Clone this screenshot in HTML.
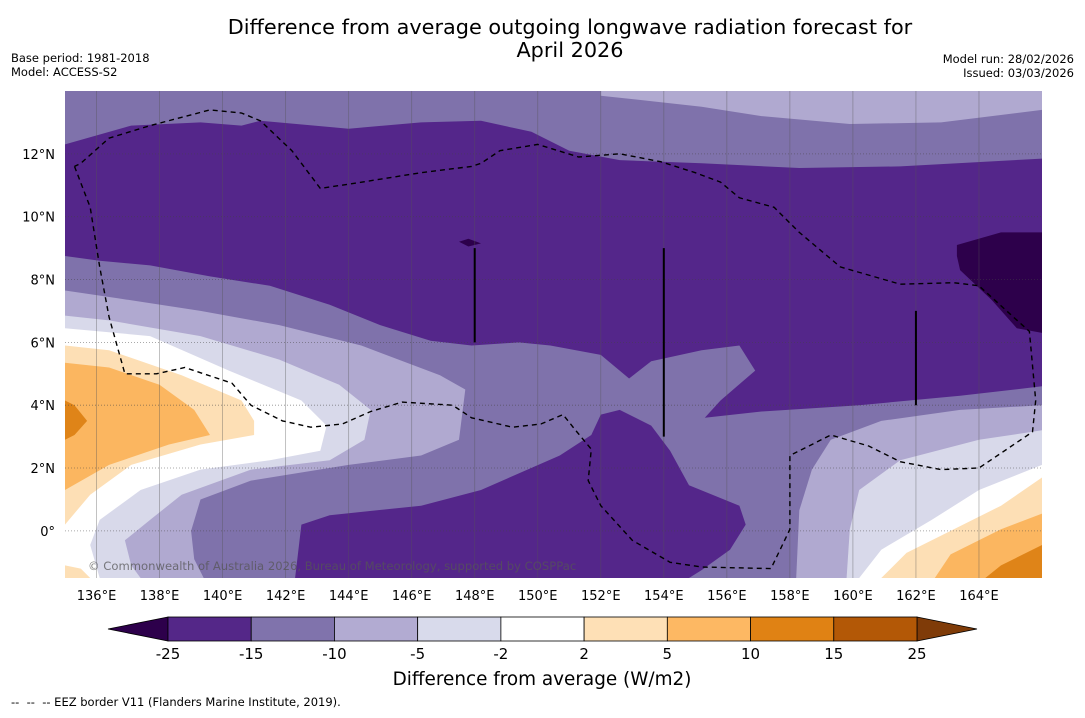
<!DOCTYPE html>
<html><head><meta charset="utf-8"><style>
body{margin:0;background:#fff;width:1085px;height:713px;overflow:hidden;font-family:"Liberation Sans","DejaVu Sans",sans-serif}
svg text{font-family:"DejaVu Sans","Liberation Sans",sans-serif}
</style></head><body>
<svg id="chart" width="1085" height="713" viewBox="0 0 1085 713" xmlns="http://www.w3.org/2000/svg">
<text x="570" y="34" text-anchor="middle" font-size="20.8">Difference from average outgoing longwave radiation forecast for</text>
<text x="570" y="57" text-anchor="middle" font-size="20.8">April 2026</text>
<text x="11" y="62" font-size="11.5">Base period: 1981-2018</text>
<text x="11" y="76" font-size="11.5">Model: ACCESS-S2</text>
<text x="1074" y="63" text-anchor="end" font-size="11.5">Model run: 28/02/2026</text>
<text x="1074" y="77" text-anchor="end" font-size="11.5">Issued: 03/03/2026</text>
<defs><clipPath id="mapclip"><rect x="65" y="91" width="977" height="487"/></clipPath></defs>
<g id="map" clip-path="url(#mapclip)"></g>
<g id="axes"></g>
<g id="cbar"></g>
<text x="542" y="685" text-anchor="middle" font-size="18.4">Difference from average (W/m2)</text>
<text x="11" y="706" font-size="11.5" xml:space="preserve" style="white-space:pre">--  --  -- EEZ border V11 (Flanders Marine Institute, 2019).</text>
</svg>
<script>
const NS="http://www.w3.org/2000/svg";
// axis ranges
const lonMin=135, lonMax=166, latMin=-1.5, latMax=14;
const lonTicks=[136,138,140,142,144,146,148,150,152,154,156,158,160,162,164];
const latTicks=[0,2,4,6,8,10,12];
const cbLevels=["-25","-15","-10","-5","-2","2","5","10","15","25"];
const cbColors=["#542788","#8073ac","#b2abd2","#d8daeb","#ffffff","#fee0b6","#fdb863","#e08214","#b35806"];
// contour regions: [lon,lat] pairs, drawn in order
const regTopLight=[[152,14],[166,14],[166,13.4],[162.8,13.0],[159.9,12.95],[157.1,13.2],[155.2,13.5],[152,13.85]];
const regDarkBand=[[135,12.3],[137.1,12.9],[139.3,13.0],[140.6,12.9],[141.2,13.05],[144,12.8],[146.3,13.0],[148.2,13.05],[149.8,12.7],[151,12.1],[152.6,11.8],[155.2,11.7],[158.3,11.55],[161.5,11.6],[166,11.85],[166,4.6],[163.4,4.3],[160.2,4.0],[157.1,3.8],[155.3,3.6],[155.8,4.15],[156.9,5.1],[156.4,5.9],[155.2,5.75],[153.6,5.4],[152.9,4.85],[152,5.6],[150.4,5.9],[149.4,6.0],[147.9,5.9],[146.6,6.05],[145,6.55],[143.4,7.2],[141.5,7.8],[139.6,8.1],[137.7,8.45],[136.1,8.6],[135,8.75]];
const regDarkSouth=[[142.3,-1.5],[142.5,0.2],[143.4,0.5],[146.3,0.8],[148.2,1.3],[150.7,2.4],[151.7,3.05],[152,3.7],[152.6,3.85],[153.6,3.35],[154.2,2.55],[154.8,1.45],[156.4,0.8],[156.6,0.2],[156.1,-0.6],[155.2,-1.25],[154.8,-1.5]];
const regDarkest=[[163.3,9.1],[164.7,9.5],[166,9.5],[166,6.3],[165.2,6.45],[164.4,7.35],[163.4,8.3],[163.3,8.75]];
const regDarkestBlob=[[147.5,9.2],[147.8,9.3],[148.2,9.15],[147.8,9.05]];
const regLavL=[[135,7.65],[136.7,7.4],[139.3,7.0],[141.8,6.55],[144.4,5.9],[146.9,4.95],[147.7,4.5],[147.5,2.9],[146.3,2.4],[144,2.1],[140.9,1.6],[139.3,1.0],[139,0],[139.1,-0.9],[139.4,-1.5],[135,-1.5]];
const regLavR=[[166,4.0],[163.4,3.85],[160.9,3.5],[159.3,2.9],[158.7,1.95],[158.3,0.65],[158.2,-1.5],[166,-1.5]];
const regPaleL=[[135,6.85],[136.4,6.7],[139.3,6.2],[141.8,5.45],[143.7,4.65],[144.7,3.85],[144.5,2.9],[143.4,2.25],[140.9,1.95],[138.7,1.15],[137.7,0.35],[136.9,-0.3],[137.1,-1.1],[137.4,-1.5],[135,-1.5]];
const regPaleR=[[166,3.2],[164,2.9],[161.5,2.25],[160.2,1.3],[159.9,0.05],[159.8,-1.5],[166,-1.5]];
const regWhiteL=[[135,6.45],[137.7,6.2],[140.2,5.1],[142.5,4.15],[143.3,3.35],[143.1,2.55],[141.5,2.25],[139.3,1.95],[137.4,1.3],[136.1,0.35],[135.8,-0.45],[136.1,-1.5],[135,-1.5]];
const regWhiteR=[[166,2.1],[164,1.3],[162.5,0.35],[160.9,-0.6],[160.2,-1.5],[166,-1.5]];
const regLOrL=[[135,5.9],[136.4,5.75],[138.7,4.95],[140.6,4.15],[141,3.5],[141,3.05],[139.3,2.75],[137.1,2.1],[135.8,1.15],[135,0.2]];
const regLOrL2=[[135,-1.1],[135.5,-1.2],[135.8,-1.5],[135,-1.5]];
const regLOrR=[[166,1.7],[164.7,0.8],[162.8,-0.15],[161.7,-0.7],[160.9,-1.5],[166,-1.5]];
const regOrL=[[135,5.35],[136.4,5.2],[138,4.65],[139.1,3.85],[139.6,3.05],[138.3,2.75],[136.4,2.1],[135,1.3]];
const regOrR=[[166,0.55],[164.7,0.05],[163.1,-0.75],[162.6,-1.5],[166,-1.5]];
const regDOrL=[[135,4.15],[135.3,4.0],[135.7,3.5],[135.3,3.05],[135,2.9]];
const regDOrR=[[166,-0.45],[164.7,-1.1],[164.2,-1.5],[166,-1.5]];
// artifact lines [lon, latTop, latBottom]
const vLines=[[148,9.0,6.0],[154,9.0,3.0],[162,7.0,4.0]];
// EEZ border [lon,lat]
const eez=[[135.3,11.6],[135.8,10.3],[136.1,8.4],[136.4,6.8],[136.9,5.0],[137.9,5.0],[138.8,5.2],[140.3,4.7],[140.9,4.0],[141.9,3.5],[142.8,3.3],[143.8,3.4],[144.7,3.8],[145.7,4.1],[147.3,4.0],[147.9,3.6],[149.2,3.3],[150.1,3.4],[150.8,3.7],[151.2,3.2],[151.7,2.6],[151.6,1.6],[152,0.8],[153,-0.3],[154.2,-1.0],[155.2,-1.15],[157.4,-1.2],[158,0.05],[158,2.4],[159.3,3.05],[160.5,2.7],[161.5,2.2],[162.8,1.95],[164,2.0],[165.7,3.15],[165.8,4.15],[165.6,6.35],[165.1,6.8],[164,7.8],[163.2,7.9],[161.5,7.85],[159.6,8.4],[158.3,9.5],[157.5,10.3],[156.4,10.6],[155.8,11.1],[155,11.4],[153.9,11.75],[152.6,12.0],[151.3,11.9],[150,12.3],[148.8,12.1],[148.2,11.7],[147.9,11.6],[146.3,11.4],[144.1,11.05],[143.1,10.9],[142.2,12.1],[141.2,13.05],[140.6,13.3],[139.6,13.4],[137.7,12.9],[136.4,12.5],[135.5,11.7],[135.3,11.6]];

const X=lon=>65+(lon-lonMin)/(lonMax-lonMin)*977;
const Y=lat=>91+(latMax-lat)/(latMax-latMin)*487;
const map=document.getElementById('map');
const axes=document.getElementById('axes');
function poly(pts,fill,name){
  const p=document.createElementNS(NS,'polygon');
  p.setAttribute('points',pts.map(q=>X(q[0]).toFixed(1)+','+Y(q[1]).toFixed(1)).join(' '));
  p.setAttribute('fill',fill);
  
  
  map.appendChild(p);
}
poly([[lonMin,latMax],[lonMax,latMax],[lonMax,latMin],[lonMin,latMin]],'#7f72ab','region-minus10-to-minus15');
poly(regTopLight,'#b0a9d0','region-top-light');
poly(regDarkBand,'#54268a','region-dark-band');
poly(regDarkSouth,'#54268a','region-dark-south');
poly(regDarkest,'#2d004b','region-darkest');
poly(regDarkestBlob,'#2d004b','region-darkest-blob');
poly(regLavL,'#b0a9d0','region-lavender-left');
poly(regLavR,'#b0a9d0','region-lavender-right');
poly(regPaleL,'#d8d9ea','region-pale-left');
poly(regPaleR,'#d8d9ea','region-pale-right');
poly(regWhiteL,'#ffffff','region-white-left');
poly(regWhiteR,'#ffffff','region-white-right');
poly(regLOrL,'#fddfb5','region-light-orange-left');
poly(regLOrL2,'#fddfb5','region-light-orange-corner');
poly(regLOrR,'#fddfb5','region-light-orange-right');
poly(regOrL,'#fbb660','region-orange-left');
poly(regOrR,'#fbb660','region-orange-right');
poly(regDOrL,'#df8418','region-dark-orange-left');
poly(regDOrR,'#df8418','region-dark-orange-right');
// gridlines
lonTicks.forEach(l=>{
  const g=document.createElementNS(NS,'line');
  g.setAttribute('x1',X(l));g.setAttribute('x2',X(l));g.setAttribute('y1',91);g.setAttribute('y2',578);
  g.setAttribute('stroke','#555');g.setAttribute('stroke-opacity','0.45');g.setAttribute('stroke-width','0.8');
  
  
  map.appendChild(g);
  const t=document.createElementNS(NS,'text');
  t.setAttribute('x',X(l));t.setAttribute('y',600);t.setAttribute('text-anchor','middle');t.setAttribute('font-size','13');
  t.textContent=l+'°E';
  
  
  axes.appendChild(t);
});
latTicks.forEach(l=>{
  const g=document.createElementNS(NS,'line');
  g.setAttribute('x1',65);g.setAttribute('x2',1042);g.setAttribute('y1',Y(l));g.setAttribute('y2',Y(l));
  g.setAttribute('stroke','#444');g.setAttribute('stroke-opacity','0.6');g.setAttribute('stroke-width','0.8');g.setAttribute('stroke-dasharray','1,2');
  
  
  map.appendChild(g);
  const t=document.createElementNS(NS,'text');
  t.setAttribute('x',55);t.setAttribute('y',Y(l)+5);t.setAttribute('text-anchor','end');t.setAttribute('font-size','13');
  t.textContent=l===0?'0°':l+'°N';
  
  
  axes.appendChild(t);
});
vLines.forEach(v=>{
  const g=document.createElementNS(NS,'line');
  g.setAttribute('x1',X(v[0]));g.setAttribute('x2',X(v[0]));g.setAttribute('y1',Y(v[1]));g.setAttribute('y2',Y(v[2]));
  g.setAttribute('stroke','#000');g.setAttribute('stroke-width','2');
  
  
  map.appendChild(g);
});
const e=document.createElementNS(NS,'polyline');
e.setAttribute('points',eez.map(q=>X(q[0]).toFixed(1)+','+Y(q[1]).toFixed(1)).join(' '));
e.setAttribute('fill','none');e.setAttribute('stroke','#000');e.setAttribute('stroke-width','1.4');e.setAttribute('stroke-dasharray','5,4');


map.appendChild(e);
const cr=document.createElementNS(NS,'text');
cr.setAttribute('x',88);cr.setAttribute('y',570);cr.setAttribute('font-size','11.6');cr.setAttribute('fill','#555');cr.setAttribute('fill-opacity','0.75');
cr.textContent='© Commonwealth of Australia 2026, Bureau of Meteorology, supported by COSPPac';


map.appendChild(cr);
// colorbar
const cb=document.getElementById('cbar');
const cbX0=168, cbX1=917, cbY=617, cbH=24;
const cw=(cbX1-cbX0)/cbColors.length;
const lt=document.createElementNS(NS,'polygon');
lt.setAttribute('points',`${cbX0},${cbY} 108,${cbY+cbH/2} ${cbX0},${cbY+cbH}`);lt.setAttribute('fill','#2d004b');lt.setAttribute('stroke','#000');lt.setAttribute('stroke-width','0.8');


cb.appendChild(lt);
const rt=document.createElementNS(NS,'polygon');
rt.setAttribute('points',`${cbX1},${cbY} 977,${cbY+cbH/2} ${cbX1},${cbY+cbH}`);rt.setAttribute('fill','#7f3b08');rt.setAttribute('stroke','#000');rt.setAttribute('stroke-width','0.8');


cb.appendChild(rt);
cbColors.forEach((c,i)=>{
  const r=document.createElementNS(NS,'rect');
  r.setAttribute('x',cbX0+i*cw);r.setAttribute('y',cbY);r.setAttribute('width',cw);r.setAttribute('height',cbH);
  r.setAttribute('fill',c);r.setAttribute('stroke','#000');r.setAttribute('stroke-width','0.8');
  
  
  cb.appendChild(r);
});
cbLevels.forEach((s,i)=>{
  const t=document.createElementNS(NS,'text');
  t.setAttribute('x',cbX0+i*cw);t.setAttribute('y',659);t.setAttribute('text-anchor','middle');t.setAttribute('font-size','15');
  t.textContent=s;
  
  
  cb.appendChild(t);
});
</script>
</body></html>
